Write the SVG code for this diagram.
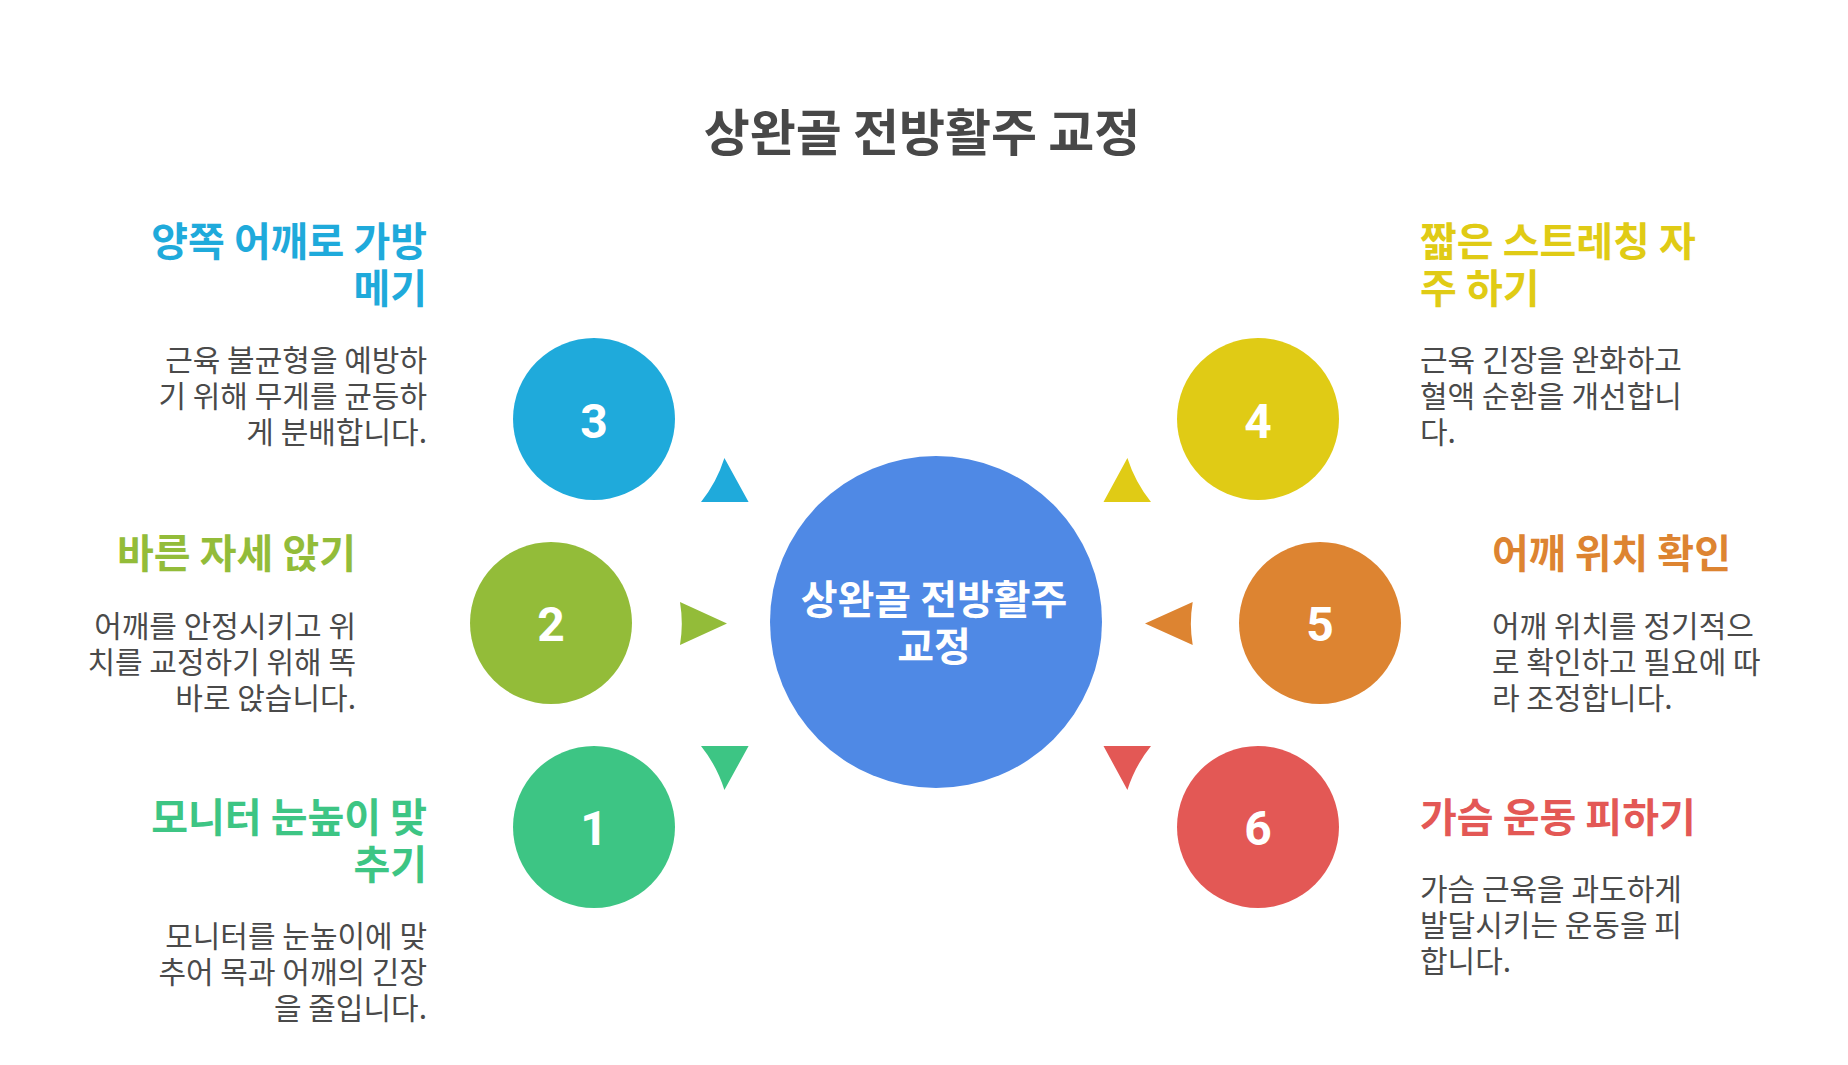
<svg xmlns="http://www.w3.org/2000/svg" width="1848" height="1065" viewBox="0 0 1848 1065">
  <style>
    .kr { font-family: "Noto Sans CJK KR", "Noto Sans", sans-serif; }
    .title { font-size: 50px; font-weight: 700; fill: #484848; }
    .head { font-size: 40px; font-weight: 700; }
    .desc { font-size: 30px; font-weight: 400; fill: #4a4a4a; }
    .num { font-family: Roboto, "Noto Sans", sans-serif; font-size: 48px; font-weight: 700; fill: #ffffff; text-anchor: middle; }
    .ctext { font-size: 40px; font-weight: 700; fill: #ffffff; text-anchor: middle; }
    .end { text-anchor: end; }
    .c1 { fill: #3DC584; } .c2 { fill: #93BC39; } .c3 { fill: #1FAADB; }
    .c4 { fill: #E0CB15; } .c5 { fill: #DD8431; } .c6 { fill: #E35855; }
  </style>
  <rect width="1848" height="1065" fill="#ffffff"/>

  <g id="title">
    <text class="kr title" x="922" y="151" text-anchor="middle">상완골 전방활주 교정</text>
  </g>

  <g id="connectors">
    <path class="c3" d="M701 502 A135.7 135.7 0 0 0 724.4 458 L748.6 502 Z"/>
    <path class="c2" d="M680 602 L727 623.5 L680 645 A130.7 130.7 0 0 0 680 602 Z"/>
    <path class="c1" d="M701 746 A135 135 0 0 1 724.4 790 L748.6 746 Z"/>
    <path class="c4" d="M1103.5 502 L1127.4 458 A135.7 135.7 0 0 0 1151 502 Z"/>
    <path class="c5" d="M1192.7 602 L1145 623.5 L1192.7 645 A129 129 0 0 1 1192.7 602 Z"/>
    <path class="c6" d="M1103.5 746 L1151 746 A135 135 0 0 0 1127.4 790 Z"/>
  </g>

  <g id="center">
    <circle cx="936" cy="622" r="166" fill="#4F89E5"/>
    <text class="kr ctext" x="934" y="614">상완골 전방활주</text>
    <text class="kr ctext" x="934" y="661">교정</text>
  </g>

  <g id="step3">
    <circle class="c3" cx="594" cy="419" r="81"/>
    <text class="num" x="594" y="438">3</text>
    <text class="kr head end c3" x="427" y="256">양쪽 어깨로 가방</text>
    <text class="kr head end c3" x="427" y="303">메기</text>
    <text class="kr desc end" x="427" y="371">근육 불균형을 예방하</text>
    <text class="kr desc end" x="427" y="407">기 위해 무게를 균등하</text>
    <text class="kr desc end" x="427" y="443">게 분배합니다.</text>
  </g>

  <g id="step2">
    <circle class="c2" cx="551" cy="623" r="81"/>
    <text class="num" x="551" y="641">2</text>
    <text class="kr head end c2" x="356" y="568">바른 자세 앉기</text>
    <text class="kr desc end" x="356" y="637">어깨를 안정시키고 위</text>
    <text class="kr desc end" x="356" y="673">치를 교정하기 위해 똑</text>
    <text class="kr desc end" x="356" y="709">바로 앉습니다.</text>
  </g>

  <g id="step1">
    <circle class="c1" cx="594" cy="827" r="81"/>
    <text class="num" x="594" y="845">1</text>
    <text class="kr head end c1" x="427" y="832">모니터 눈높이 맞</text>
    <text class="kr head end c1" x="427" y="879">추기</text>
    <text class="kr desc end" x="427" y="947">모니터를 눈높이에 맞</text>
    <text class="kr desc end" x="427" y="983">추어 목과 어깨의 긴장</text>
    <text class="kr desc end" x="427" y="1019">을 줄입니다.</text>
  </g>

  <g id="step4">
    <circle class="c4" cx="1258" cy="419" r="81"/>
    <text class="num" x="1258" y="438">4</text>
    <text class="kr head c4" x="1420" y="256">짧은 스트레칭 자</text>
    <text class="kr head c4" x="1420" y="303">주 하기</text>
    <text class="kr desc" x="1420" y="371">근육 긴장을 완화하고</text>
    <text class="kr desc" x="1420" y="407">혈액 순환을 개선합니</text>
    <text class="kr desc" x="1420" y="443">다.</text>
  </g>

  <g id="step5">
    <circle class="c5" cx="1320" cy="623" r="81"/>
    <text class="num" x="1320" y="641">5</text>
    <text class="kr head c5" x="1492" y="568">어깨 위치 확인</text>
    <text class="kr desc" x="1492" y="637">어깨 위치를 정기적으</text>
    <text class="kr desc" x="1492" y="673">로 확인하고 필요에 따</text>
    <text class="kr desc" x="1492" y="709">라 조정합니다.</text>
  </g>

  <g id="step6">
    <circle class="c6" cx="1258" cy="827" r="81"/>
    <text class="num" x="1258" y="845">6</text>
    <text class="kr head c6" x="1420" y="832">가슴 운동 피하기</text>
    <text class="kr desc" x="1420" y="900">가슴 근육을 과도하게</text>
    <text class="kr desc" x="1420" y="936">발달시키는 운동을 피</text>
    <text class="kr desc" x="1420" y="972">합니다.</text>
  </g>
</svg>
